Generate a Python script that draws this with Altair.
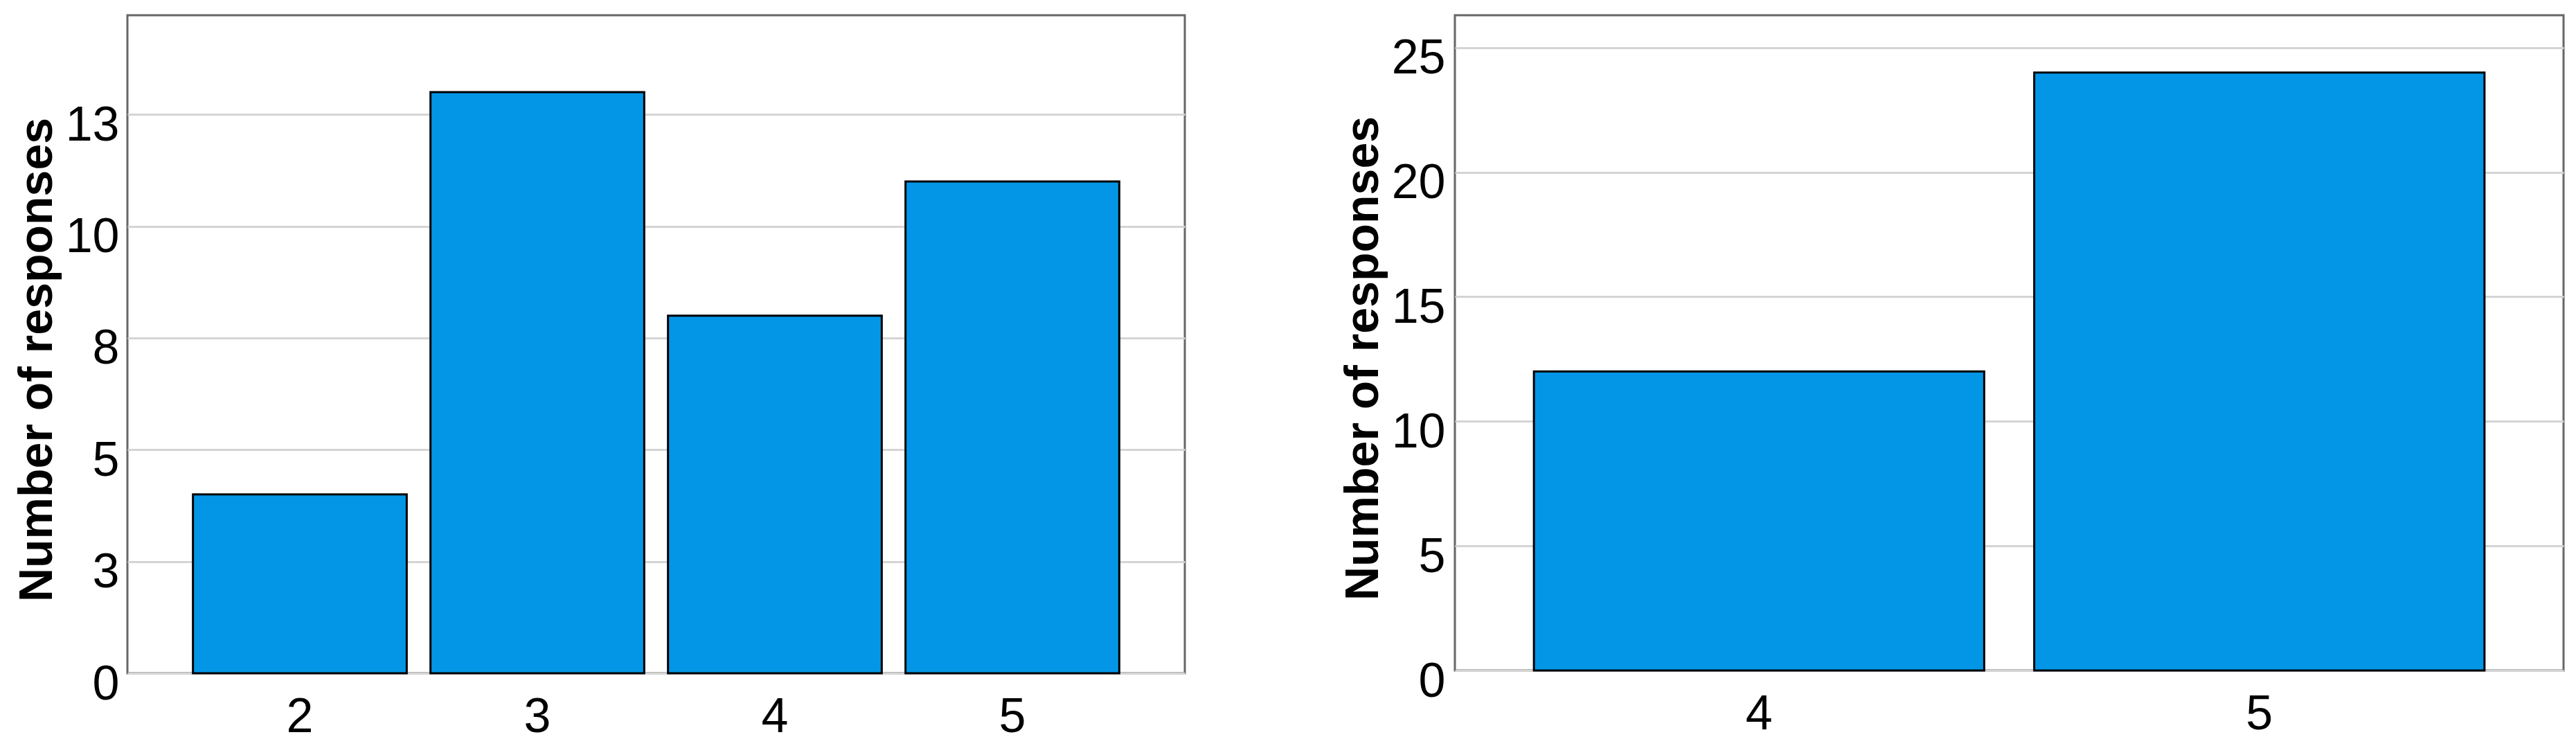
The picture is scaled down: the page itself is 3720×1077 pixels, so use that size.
import altair as alt
import pandas as pd

# ---- data ----
left_categories = ["2", "3", "4", "5"]
left_counts = [4, 13, 8, 11]
left_ticks = [0, 2.5, 5, 7.5, 10, 12.5]
left_ymax = 14.72

right_categories = ["4", "5"]
right_counts = [12, 24]
right_ticks = [0, 5, 10, 15, 20, 25]
right_ymax = 26.3

y_title = "Number of responses"

BAR_COLOR = "#0396E6"
LABEL_FONT = "Liberation Sans"
TITLE_FONT = "Liberation Sans"


def panel(cats, counts, ticks, ymax, width, height, pad_outer, label_pad):
    df = pd.DataFrame({"category": cats, "count": counts})
    return (
        alt.Chart(df)
        .mark_bar(color=BAR_COLOR, stroke="black", strokeWidth=3)
        .encode(
            x=alt.X(
                "category:N",
                sort=cats,
                title=None,
                scale=alt.Scale(paddingInner=0.1, paddingOuter=pad_outer),
                axis=alt.Axis(
                    labelAngle=0,
                    ticks=False,
                    tickSize=0,
                    domain=False,
                    grid=False,
                    labelPadding=29,
                    labelFont=LABEL_FONT,
                    labelFontSize=70,
                    labelColor="black",
                ),
            ),
            y=alt.Y(
                "count:Q",
                scale=alt.Scale(domain=[0, ymax], nice=False, zero=True),
                axis=alt.Axis(
                    values=ticks,
                    format=".0f",
                    title=y_title,
                    titleFont=TITLE_FONT,
                    titleFontSize=68,
                    titleFontWeight="bold",
                    titleColor="black",
                    titlePadding=6,
                    titleY=height / 2 + 22,
                    ticks=False,
                    tickSize=0,
                    domain=False,
                    grid=True,
                    gridColor="#d4d4d4",
                    gridWidth=3,
                    labelPadding=label_pad,
                    labelFont=LABEL_FONT,
                    labelFontSize=70,
                    labelColor="black",
                    labelBaseline="middle",
                    labelOffset=16,
                ),
            ),
        )
        .properties(width=width, height=height)
    )


left = panel(left_categories, left_counts, left_ticks, left_ymax, 1527, 950, 0.276, 12)
right = panel(right_categories, right_counts, right_ticks, right_ymax, 1601, 946, 0.158, 14)

chart = (
    alt.hconcat(left, right, spacing=220)
    .properties(background="white", padding={"left": 10, "top": 12, "right": 5, "bottom": 5})
    .configure_view(stroke="#666666", strokeWidth=3)
)

chart.save("out.html", embed_options={"renderer": "svg", "actions": False})
